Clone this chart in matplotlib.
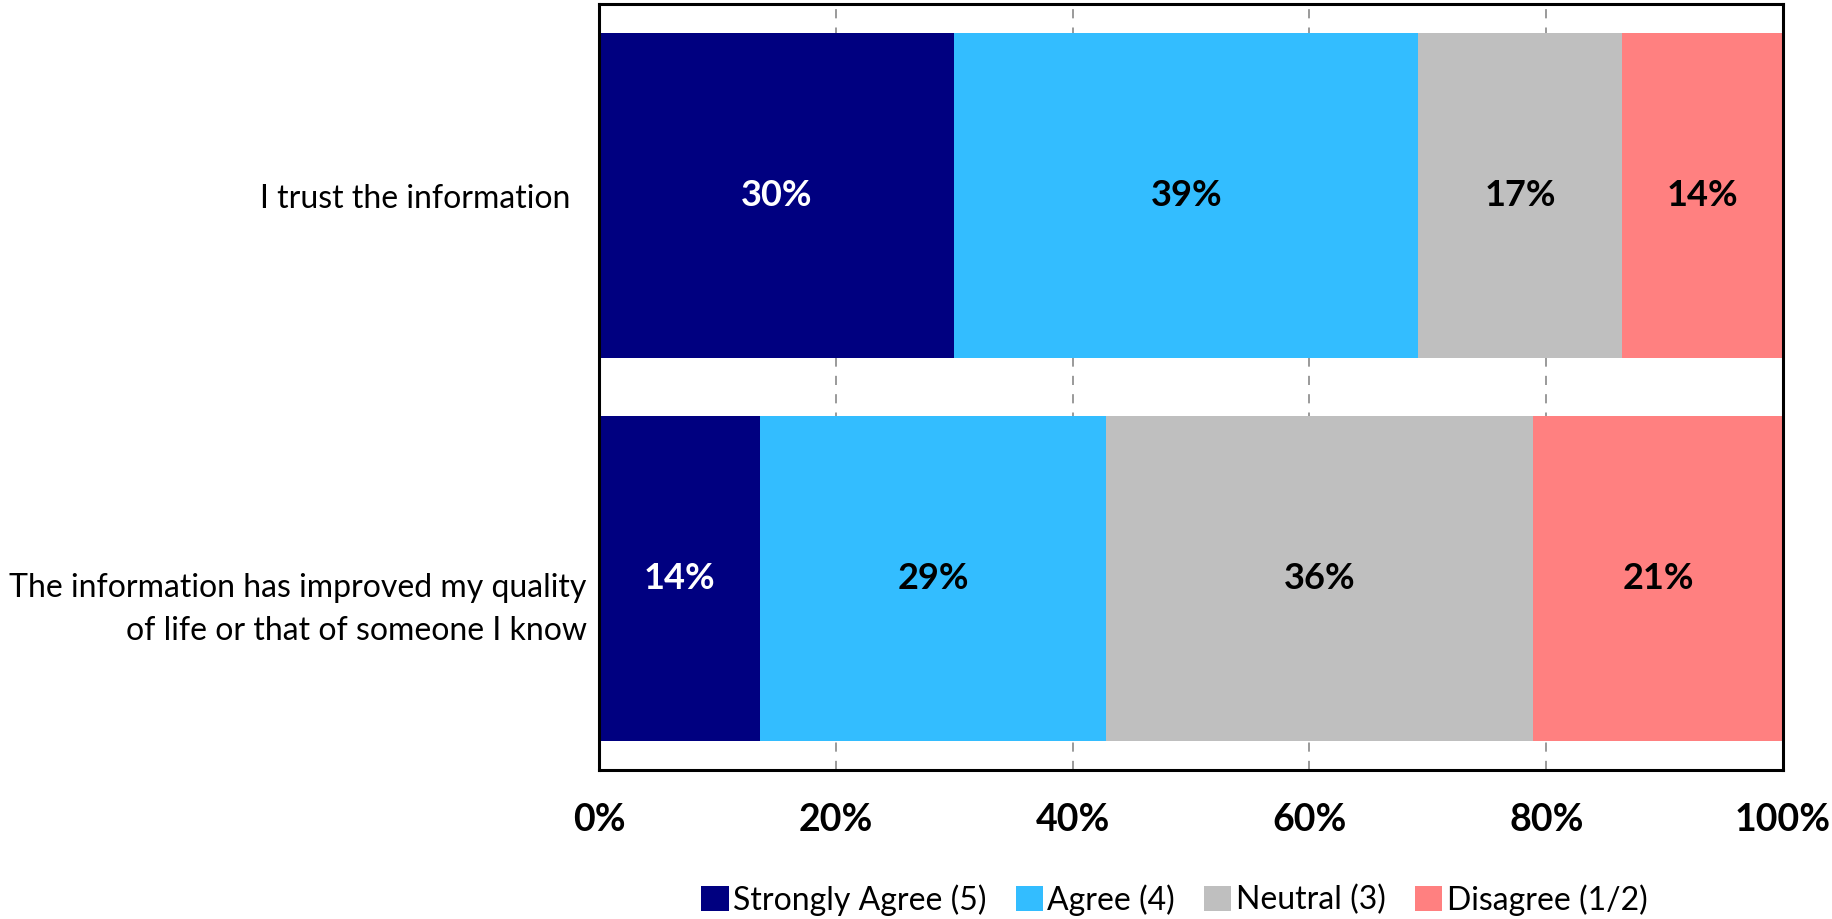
import matplotlib.pyplot as plt
from matplotlib.patches import Patch

plt.rcParams['font.family'] = ['Lato', 'DejaVu Sans']

# データ
questions = ['I trust the information  ',
             '\nThe information has improved my quality\nof life or that of someone I know']
categories = ['Strongly Agree (5)', 'Agree (4)', 'Neutral (3)', 'Disagree (1/2)']
strongly_agree = [30.0, 13.6]
agree = [39.2, 29.2]
neutral = [17.2, 36.1]
disagree = [13.6, 21.1]
colors = ['#000080', '#33BDFF', '#BFBFBF', '#FF8080']
label_colors = ['white', 'black', 'black', 'black']
xticks = [0, 20, 40, 60, 80, 100]

fig = plt.figure(figsize=(18.32, 9.19), dpi=100)
ax = fig.add_axes([0.327, 0.162, 0.6463, 0.8336])

series = [strongly_agree, agree, neutral, disagree]
left = [0.0, 0.0]
for vals, col, tcol in zip(series, colors, label_colors):
    bars = ax.barh(range(len(questions)), vals, left=left, height=0.85,
                   color=col, zorder=3)
    for i, b in enumerate(bars):
        ax.text(left[i] + vals[i] / 2, i, f'{round(vals[i])}%', ha='center',
                va='center', color=tcol, fontsize=26, fontweight='bold', zorder=4)
    left = [l + v for l, v in zip(left, vals)]

ax.set_xlim(0, 100)
ax.set_ylim(1.5, -0.5)
ax.set_yticks(range(len(questions)))
ax.set_yticklabels(questions, fontsize=23, linespacing=1.55)
ax.set_xticks(xticks)
ax.set_xticklabels([f'{x}%' for x in xticks], fontsize=27, fontweight='bold')
ax.tick_params(axis='y', length=0, pad=9)
ax.tick_params(axis='x', length=0, pad=24)

ax.grid(axis='x', color='#7F7F7F', linestyle=(0, (6, 6)), linewidth=1.1, zorder=1)
for s in ax.spines.values():
    s.set_linewidth(2.2)
    s.set_color('black')
    s.set_zorder(5)

handles = [Patch(facecolor=c, label=l) for c, l in zip(colors, categories)]
fig.legend(handles=handles, loc='center', bbox_to_anchor=(0.641, 0.021),
           ncol=4, frameon=False, fontsize=23, handlelength=0.85,
           handleheight=0.85, handletextpad=0.15, columnspacing=0.9)

plt.savefig('out.png', dpi=100)
